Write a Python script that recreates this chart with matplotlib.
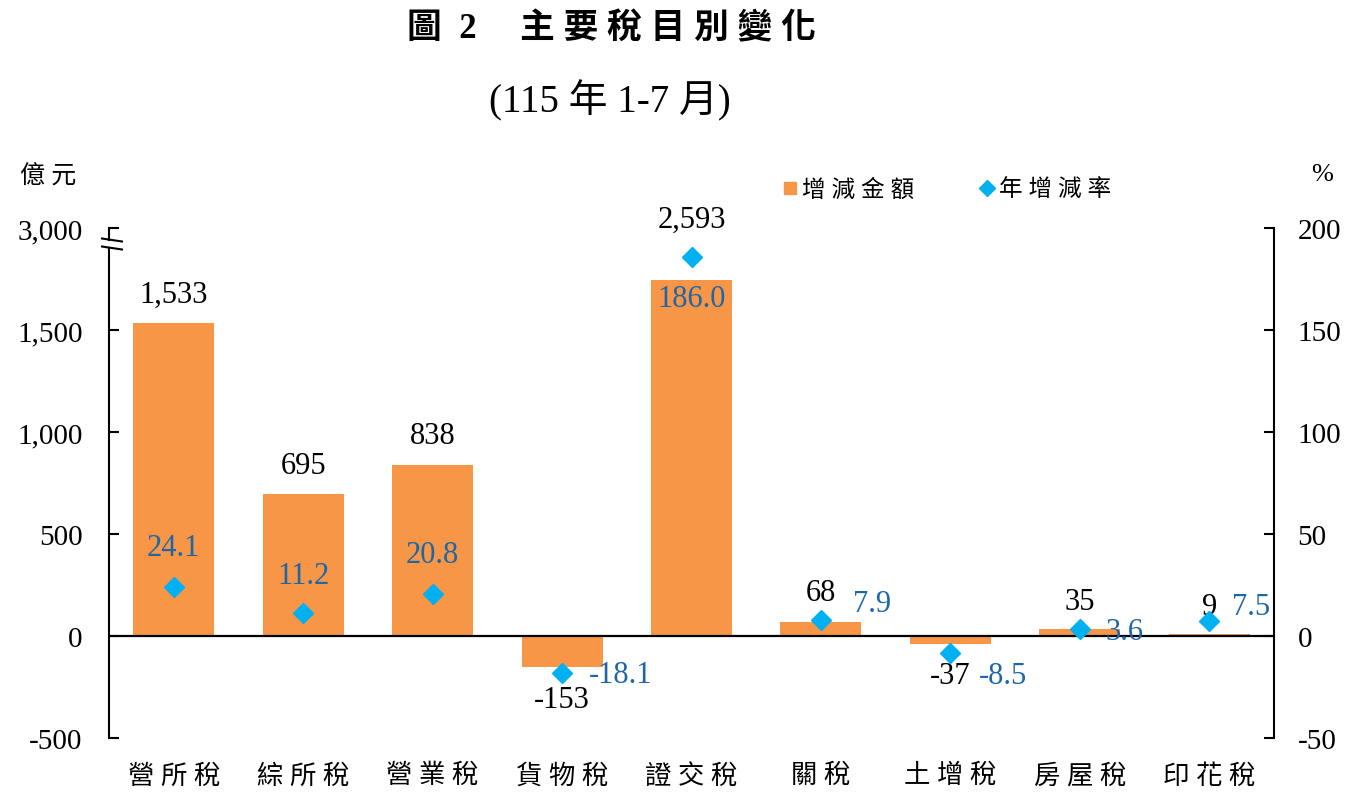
import matplotlib
matplotlib.use("Agg")
import matplotlib.pyplot as plt
from matplotlib.lines import Line2D
from matplotlib.transforms import blended_transform_factory

# ---------------- data ----------------
categories = ["營所稅", "綜所稅", "營業稅", "貨物稅", "證交稅", "關稅", "土增稅", "房屋稅", "印花稅"]
amount = [1533, 695, 838, -153, 2593, 68, -37, 35, 9]          # 億元
rate = [24.1, 11.2, 20.8, -18.1, 186.0, 7.9, -8.5, 3.6, 7.5]   # %
left_ticks = [-500, 0, 500, 1000, 1500, 2000]
left_ticklabels = ["-500", "0", "500", "1,000", "1,500", "3,000"]
right_ticks = [-50, 0, 50, 100, 150, 200]

# ---------------- layout ----------------
AXIS_BREAK_LIMIT = 2000       # amounts beyond this are drawn as a broken bar
BROKEN_BAR_HEIGHT = 1745
amt_offsets = [(0, 21), (0, 21), (0, 21), (0, -23), (0, 44), (0, 21), (0, -23), (0, 20), (0, 20)]
rate_offsets = [(0, 28), (0, 27), (0, 28), (42, -1), (0, -30), (37, 12), (38, -16), (32, -2), (30, 10)]

SERIF = ["Liberation Serif", "Noto Sans CJK TC"]
CJK = ["Noto Sans CJK TC", "DejaVu Sans"]
BAR_C = "#F79646"
DIA_C = "#00B0F0"
LAB_C = "#1F66A6"


def spaced(s):
    return " ".join(s)


fig = plt.figure(figsize=(13.53, 8.04), dpi=100)
ax = fig.add_axes([109 / 1353, 1 - 739 / 804, (1274 - 109) / 1353, 510 / 804])
ax2 = ax.twinx()

x = list(range(len(categories)))
heights = [v if v <= AXIS_BREAK_LIMIT else BROKEN_BAR_HEIGHT for v in amount]
ax.bar(x, heights, width=0.626, color=BAR_C, zorder=2)
ax.axhline(0, color="black", lw=1.6, zorder=3)
ax.set_xlim(-0.5, len(categories) - 0.5)
ax.set_ylim(-500, 2000)
ax2.set_ylim(-50, 200)

ax2.plot(x, rate, linestyle="none", marker="D", markersize=10, color=DIA_C, zorder=5)

# labels
for i in x:
    ax.annotate(f"{amount[i]:,}", (i, heights[i]), xytext=amt_offsets[i], textcoords="offset points",
                ha="center", va="center", fontsize=22, family=SERIF, color="black", zorder=6)
    ax2.annotate(f"{rate[i]:.1f}", (i, rate[i]), xytext=rate_offsets[i], textcoords="offset points",
                 ha="center", va="center", fontsize=22, family=SERIF, color=LAB_C, zorder=6)

# axes styling
for s in ["top", "bottom"]:
    ax.spines[s].set_visible(False)
    ax2.spines[s].set_visible(False)
ax2.spines["left"].set_visible(False)
ax.spines["right"].set_visible(False)
for sp in [ax.spines["left"], ax2.spines["right"]]:
    sp.set_linewidth(1.5)

ax.set_yticks(left_ticks)
ax.set_yticklabels(left_ticklabels, family=SERIF, fontsize=21)
ax.tick_params(axis="y", direction="in", length=7, width=1.5, pad=19)
ax2.set_yticks(right_ticks)
ax2.set_yticklabels([str(t) for t in right_ticks], family=SERIF, fontsize=21)
ax2.tick_params(axis="y", direction="in", length=7, width=1.5, pad=17)
ax.set_xticks(x)
ax.set_xticklabels([spaced(c) for c in categories], family=SERIF, fontsize=19)
ax.tick_params(axis="x", length=0, pad=18)

# axis break on the left spine
px_y = 2500 / 510.0
ax.spines["left"].set_bounds(-500, 2000 - 20 * px_y)
tr = blended_transform_factory(ax.transAxes, ax.transData)
pxx = 1.0 / 1165
y_hi = 2000 - 12 * px_y
y_lo = 2000 - 20 * px_y
ax.plot([0, 0], [2000, y_hi], color="black", lw=1.5, transform=tr, clip_on=False, zorder=7)
for yy in (y_hi, y_lo):
    ax.plot([-7 * pxx, 13 * pxx], [yy + 1.5 * px_y, yy - 1.5 * px_y], color="black", lw=1.5,
            transform=tr, clip_on=False, zorder=7)

# titles & unit labels
fig.text(611 / 1353, 1 - 30 / 804, "圖  2\u3000 " + spaced("主要稅目別變化"), ha="center", va="center",
         fontsize=25, fontweight="bold", family=SERIF)
fig.text(610 / 1353, 1 - 101 / 804, "(115 年 1-7 月)", ha="center", va="center",
         fontsize=28, family=SERIF)
fig.text(48 / 1353, 1 - 177 / 804, spaced("億元"), ha="center", va="center", fontsize=18, family=SERIF)
fig.text(1322 / 1353, 1 - 175 / 804, "%", ha="center", va="center", fontsize=19, family=SERIF)

# legend
handles = [Line2D([], [], linestyle="none", marker="s", markersize=9, color=BAR_C),
           Line2D([], [], linestyle="none", marker="D", markersize=8, color=DIA_C)]
fig.legend(handles, [spaced("增減金額"), spaced("年增減率")], loc="center",
           bbox_to_anchor=(947 / 1353, 1 - 191 / 804),
           ncol=2, frameon=False, handlelength=0.6, handletextpad=0.2, columnspacing=2.8,
           prop={"family": SERIF, "size": 17})

fig.savefig("out.png", dpi=100)
